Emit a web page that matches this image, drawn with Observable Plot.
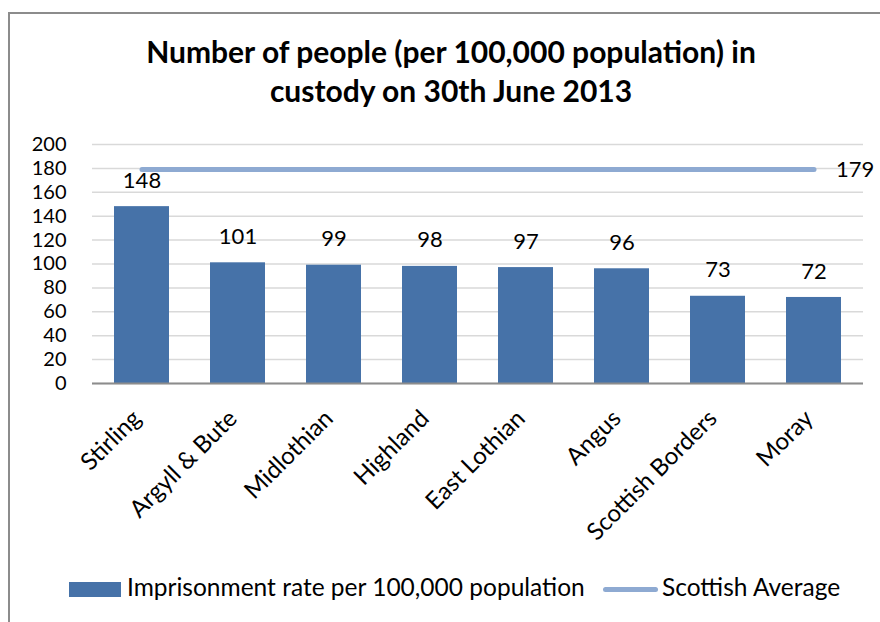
<!DOCTYPE html>
<html><head><meta charset="utf-8">
<script src="https://cdn.jsdelivr.net/npm/d3@7"></script>
<script src="https://cdn.jsdelivr.net/npm/@observablehq/plot@0.6"></script>
<style>
body{margin:0;background:#fff;font-family:Lato,"Liberation Sans",sans-serif;color:#000;}
#page{position:relative;width:880px;height:622px;overflow:hidden;}
#frame{position:absolute;left:8px;top:12px;width:900px;height:640px;border-left:2px solid #8c8c8c;border-top:2px solid #8c8c8c;}
#title{position:absolute;left:0;top:32px;width:902px;text-align:center;font-weight:bold;font-size:30px;line-height:39px;}
#chart{position:absolute;left:0;top:135px;}
.lg{position:absolute;font-size:24.5px;line-height:24.5px;white-space:nowrap;}
.sw{position:absolute;left:69px;top:582px;width:52px;height:15px;background:#4672a8;}
.ln{position:absolute;left:603px;top:587px;width:55px;height:5px;border-radius:3px;background:#8eaad2;}
</style></head>
<body>
<div id="page">
<div id="frame"></div>
<div id="title">Number of people (per 100,000 population) in<br>custody on 30th June 2013</div>
<div id="chart"></div>
<div class="sw"></div>
<div class="lg" style="left:127px;top:575px;">Imprisonment rate per 100,000 population</div>
<div class="ln"></div>
<div class="lg" style="left:662px;top:575px;">Scottish Average</div>
</div>
<script>
const categories = ["Stirling","Argyll & Bute","Midlothian","Highland","East Lothian","Angus","Scottish Borders","Moray"];
const rates = [148,101,99,98,97,96,73,72];
const scottishAverage = 179;
const yTicks = [0,20,40,60,80,100,120,140,160,180,200];

const data = categories.map((c,i)=>({region:c, rate:rates[i]}));
const avgData = categories.map(c=>({region:c, avg:scottishAverage}));

const chart = Plot.plot({
  width: 880,
  height: 410,
  marginTop: 9,
  marginBottom: 162,
  marginLeft: 92,
  marginRight: 17,
  style: {fontFamily: "Lato, 'Liberation Sans', sans-serif", overflow: "visible", background: "transparent", color: "#000"},
  x: {domain: categories, paddingInner: 0.43, paddingOuter: 0.215, label: null},
  y: {domain: [0,200], label: null},
  marks: [
    Plot.gridY(yTicks, {stroke: "#d9d9d9", strokeOpacity: 1, strokeWidth: 1.5}),
    Plot.barY(data, {x: "region", y: "rate", fill: "#4672a8"}),
    Plot.ruleY([0], {stroke: "#8c8c8c", strokeWidth: 2}),
    Plot.text(data, {x: "region", y: "rate", text: d => String(d.rate), dy: -26, fontSize: 22, fill: "#000"}),
    Plot.lineY(avgData, {x: "region", y: "avg", stroke: "#8eaad2", strokeWidth: 5, strokeLinecap: "round"}),
    Plot.text([avgData[avgData.length-1]], {x: "region", y: "avg", text: d => String(d.avg), dx: 22, textAnchor: "start", fontSize: 22, fill: "#000"}),
    Plot.axisY({ticks: yTicks, tickSize: 0, tickPadding: 26, fontSize: 20, label: null}),
    Plot.axisX({tickSize: 0, tickRotate: -45, tickPadding: 8, dx: -5, dy: 23, fontSize: 24, label: null})
  ]
});
document.getElementById("chart").appendChild(chart);
</script>
</body></html>
